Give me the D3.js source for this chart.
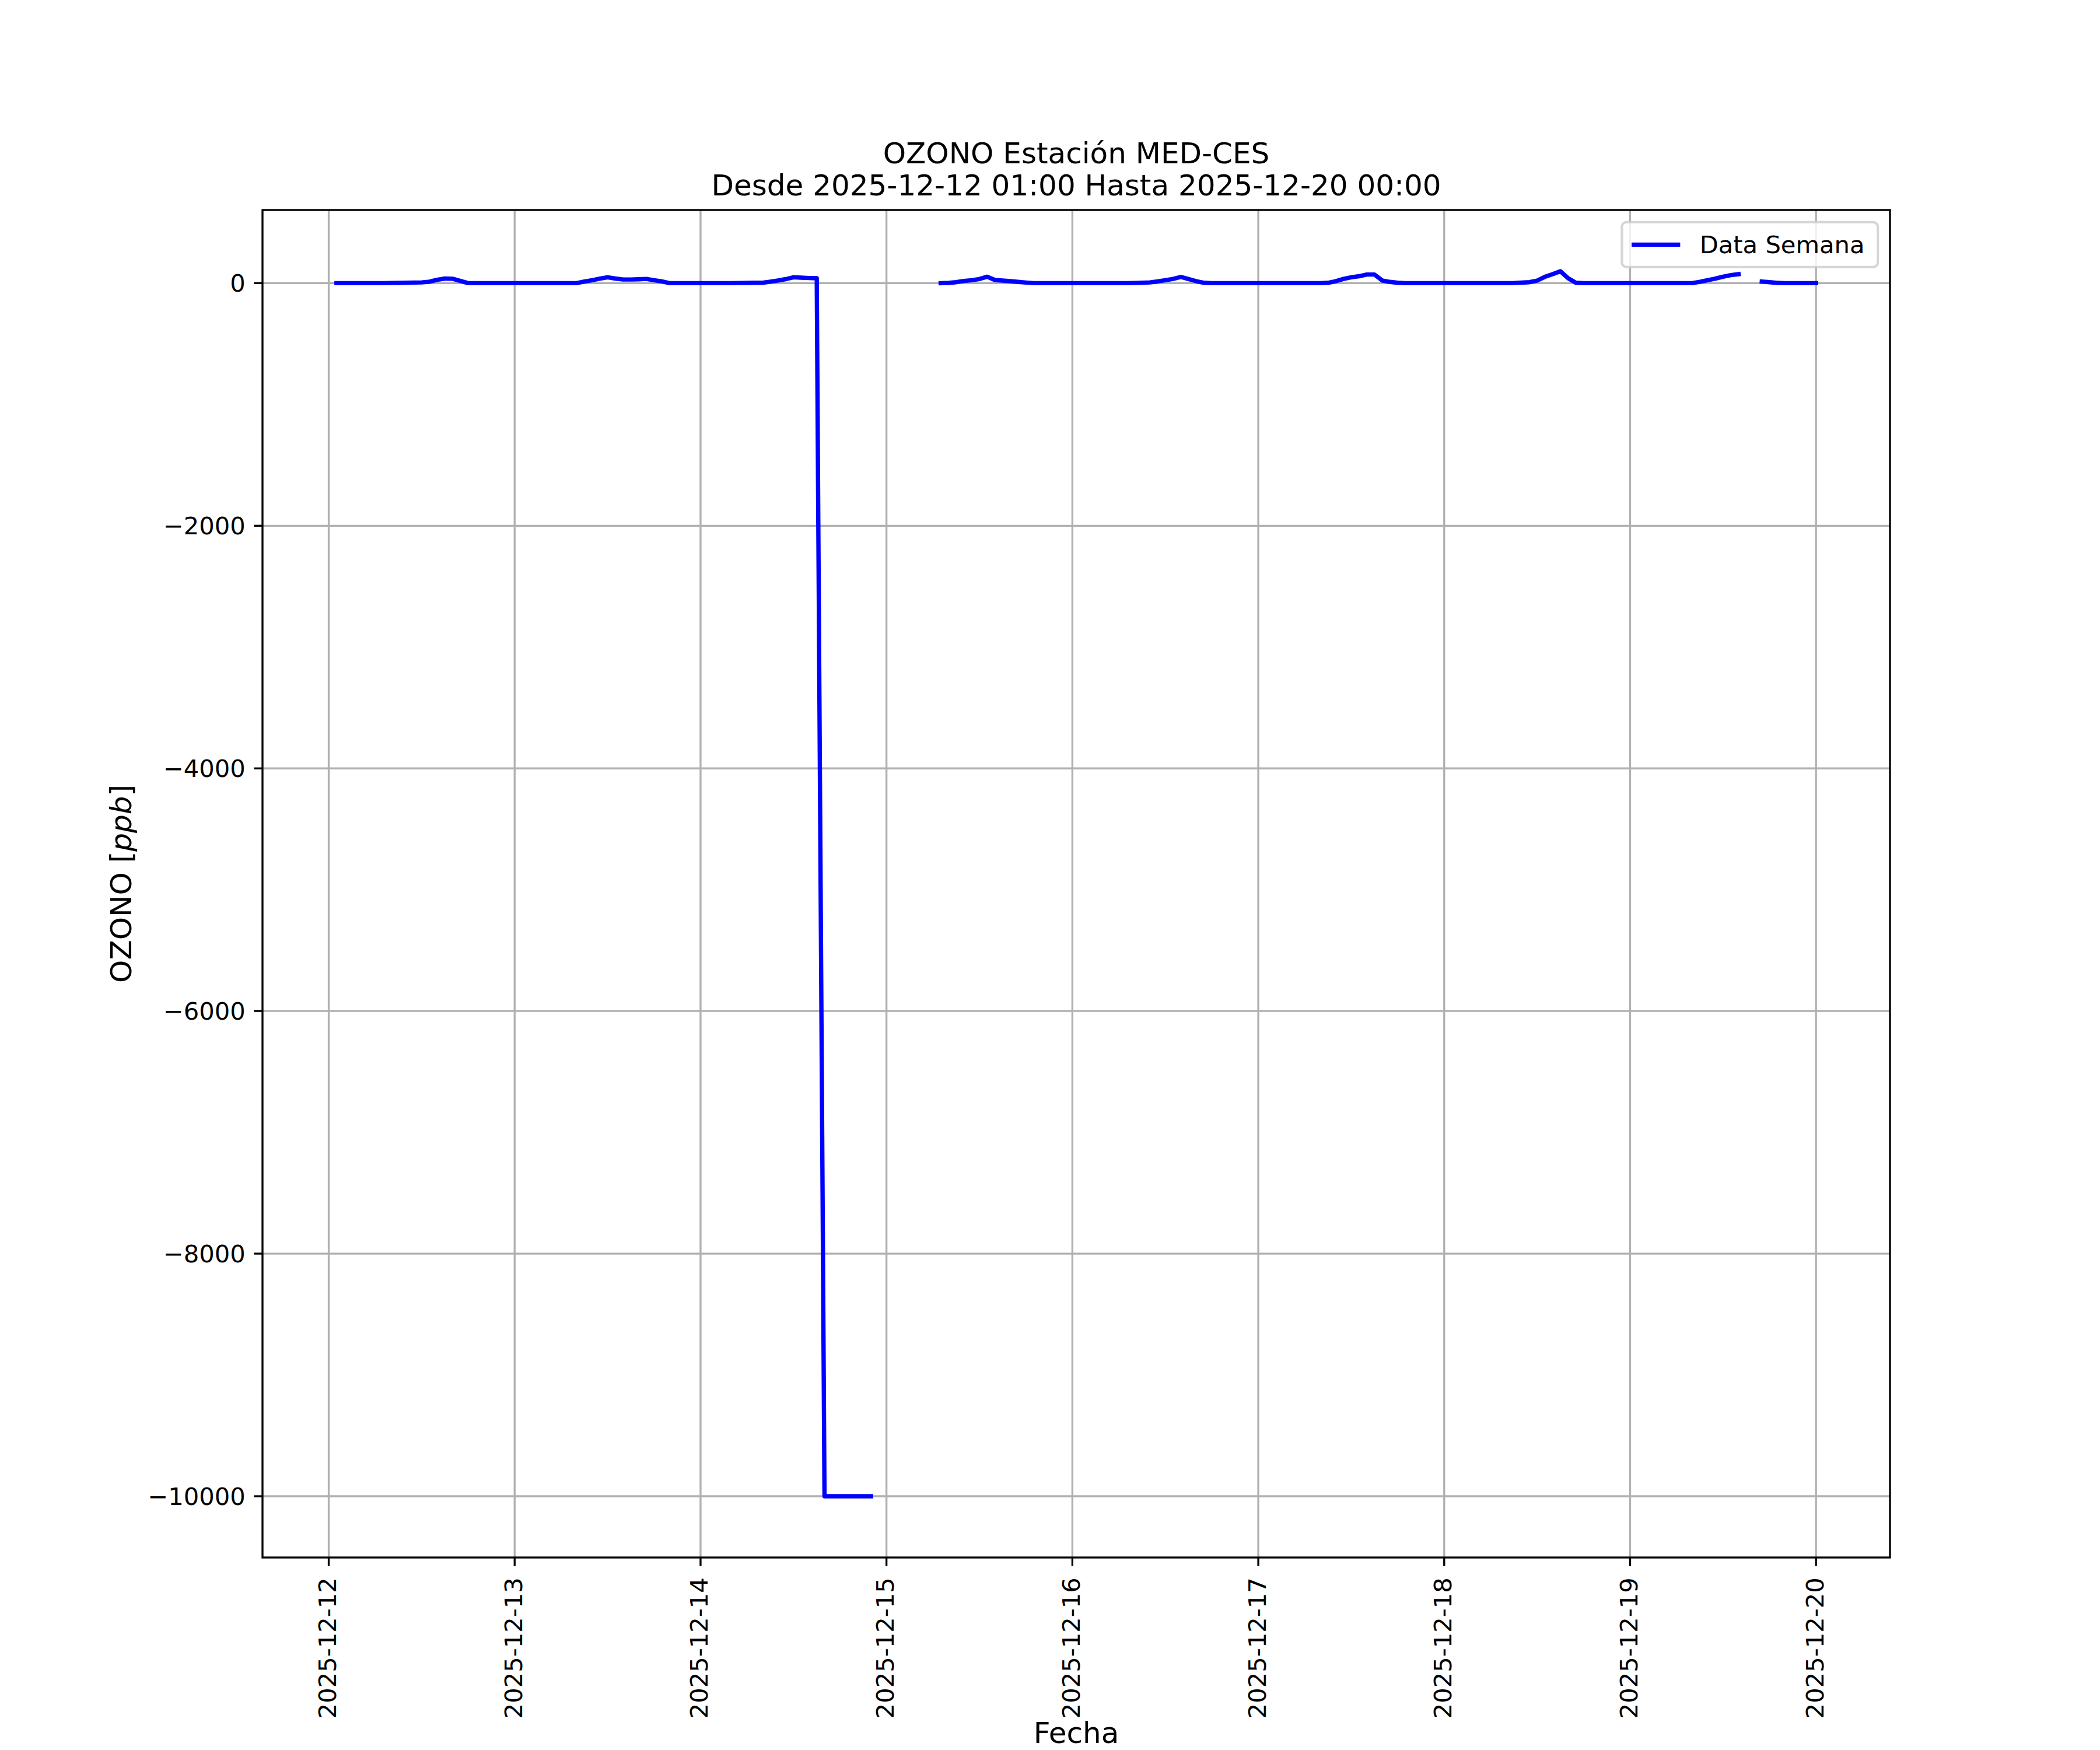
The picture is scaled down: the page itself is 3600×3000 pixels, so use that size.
<!DOCTYPE html>
<html>
<head>
<meta charset="utf-8">
<script src="https://cdn.jsdelivr.net/npm/d3@7"></script>
<style>
  body { margin: 0; background: #fff; }
  text { font-family: "DejaVu Sans", sans-serif; fill: #000; }
</style>
</head>
<body>
<script>
var width = 3600;
var height = 3000;
var margin = {top: 360, right: 360, bottom: 330, left: 450};

var titulo = "OZONO Estación MED-CES";
var subtitulo = "Desde 2025-12-12 01:00 Hasta 2025-12-20 00:00";
var serieNombre = "Data Semana";
var xLabel = "Fecha";

// primera medicion, despues una por hora
var inicio = new Date(2025, 11, 12, 1, 0);

// valores horarios en ppb (null = sin dato)
var dia12 = [0,0,0,0,0,0,0,1,2,3,5,6,12,28,38,36,18,0,0,0,0,0,0];
var dia13 = [0,0,0,0,0,0,0,0,0,13,24,37,48,38,30,30,32,35,24,14,0,0,0,0];
var dia14 = [0,0,0,0,0,1,2,3,3,12,22,33,48,45,42,40,-10000,-10000,-10000,-10000,-10000,-10000,-10000,null];
var dia15 = [null,null,null,null,null,null,null,0,2,8,18,24,34,53,26,21,16,10,5,0,0,0,0,0];
var dia16 = [0,0,0,0,0,0,0,0,1,3,6,14,24,35,51,34,16,3,0,0,0,0,0,0];
var dia17 = [0,0,0,0,0,0,0,0,0,3,16,35,48,57,71,71,22,10,3,0,0,0,0,0];
var dia18 = [0,0,0,0,0,0,0,0,0,1,4,8,21,52,74,98,40,3,0,0,0,0,0,0];
var dia19 = [0,0,0,0,0,0,0,0,0,11,24,37,53,66,74,null,null,13,8,2,0,0,0,0];
var dia20 = [0];

var valores = [].concat(dia12, dia13, dia14, dia15, dia16, dia17, dia18, dia19, dia20);
var data = valores.map(function(v, i) {
  return {fecha: d3.timeHour.offset(inicio, i), v: v};
});

// pt -> px a 300 dpi
var pt = 300 / 72;
var fsTick = 10 * pt;
var fsLabel = 12 * pt;
var lw = 0.8 * pt;
var lwSerie = 7.4;

var svg = d3.select("body")
  .append("svg")
  .attr("width", width)
  .attr("height", height);

svg.append("rect")
  .attr("width", width)
  .attr("height", height)
  .attr("fill", "#fff");

var x0 = margin.left, x1 = width - margin.right;
var y0 = margin.top, y1 = height - margin.bottom;

// margenes del 5% como matplotlib
function pad(ext) {
  var r = ext[1] - ext[0];
  return [ext[0] - 0.05 * r, ext[1] + 0.05 * r];
}

var tExt = pad(d3.extent(data, d => d.fecha.getTime()));
var vExt = pad(d3.extent(data.filter(d => d.v != null), d => d.v));

var x = d3.scaleTime()
  .domain([new Date(tExt[0]), new Date(tExt[1])])
  .range([x0, x1]);

var y = d3.scaleLinear()
  .domain(vExt)
  .range([y1, y0]);

var xTicks = x.ticks(d3.timeDay.every(1));
var yTicks = y.ticks(6);

// grilla
var grid = svg.append("g").attr("class", "grid");
grid.selectAll(".gx")
  .data(xTicks)
  .enter()
  .append("line")
  .attr("x1", d => x(d)).attr("x2", d => x(d))
  .attr("y1", y0).attr("y2", y1)
  .attr("stroke", "#b0b0b0")
  .attr("stroke-width", lw);
grid.selectAll(".gy")
  .data(yTicks)
  .enter()
  .append("line")
  .attr("x1", x0).attr("x2", x1)
  .attr("y1", d => y(d)).attr("y2", d => y(d))
  .attr("stroke", "#b0b0b0")
  .attr("stroke-width", lw);

// serie
var line = d3.line()
  .defined(d => d.v != null)
  .x(d => x(d.fecha))
  .y(d => y(d.v));

svg.append("path")
  .datum(data)
  .attr("d", line)
  .attr("fill", "none")
  .attr("stroke", "#0000ff")
  .attr("stroke-width", lwSerie)
  .attr("stroke-linejoin", "round")
  .attr("stroke-linecap", "square");

// marco
svg.append("rect")
  .attr("x", x0)
  .attr("y", y0)
  .attr("width", x1 - x0)
  .attr("height", y1 - y0)
  .attr("fill", "none")
  .attr("stroke", "#000")
  .attr("stroke-width", lw);

// ejes
var tickLen = 3.5 * pt;

var gx = svg.append("g")
  .attr("transform", "translate(0," + y1 + ")")
  .call(d3.axisBottom(x)
    .tickValues(xTicks)
    .tickFormat(d3.timeFormat("%Y-%m-%d"))
    .tickSize(tickLen)
    .tickSizeOuter(0));
gx.select(".domain").remove();
gx.attr("font-size", fsTick).attr("font-family", "DejaVu Sans");
gx.selectAll(".tick").attr("transform", d => "translate(" + x(d) + ",0)");
gx.selectAll(".tick line").attr("stroke", "#000").attr("stroke-width", lw);
gx.selectAll(".tick text")
  .attr("x", 0)
  .attr("y", 12.5)
  .attr("dy", null)
  .attr("text-anchor", "end")
  .attr("transform", "translate(0," + (tickLen * 2 + 5) + ") rotate(-90)");

var gy = svg.append("g")
  .attr("transform", "translate(" + x0 + ",0)")
  .call(d3.axisLeft(y)
    .tickValues(yTicks)
    .tickFormat(d3.format("d"))
    .tickSize(tickLen)
    .tickPadding(tickLen)
    .tickSizeOuter(0));
gy.select(".domain").remove();
gy.attr("font-size", fsTick).attr("font-family", "DejaVu Sans");
gy.selectAll(".tick").attr("transform", d => "translate(0," + y(d) + ")");
gy.selectAll(".tick line").attr("stroke", "#000").attr("stroke-width", lw);
gy.selectAll(".tick text").attr("dy", "0.36em");

// titulo
var t = svg.append("text")
  .attr("text-anchor", "middle")
  .attr("font-size", fsLabel);
t.append("tspan").attr("x", (x0 + x1) / 2).attr("y", y0 - 80).text(titulo);
t.append("tspan").attr("x", (x0 + x1) / 2).attr("y", y0 - 25).text(subtitulo);

// etiquetas de ejes
svg.append("text")
  .attr("x", (x0 + x1) / 2)
  .attr("y", height - 12)
  .attr("text-anchor", "middle")
  .attr("font-size", fsLabel)
  .text(xLabel);

var yl = svg.append("text")
  .attr("transform", "translate(225," + (y0 + y1) / 2 + ") rotate(-90)")
  .attr("text-anchor", "middle")
  .attr("font-size", fsLabel);
yl.append("tspan").text("OZONO [");
yl.append("tspan").attr("font-style", "italic").text("ppb");
yl.append("tspan").text("]");

// leyenda
var legPad = 0.4 * fsTick;
var legAxPad = 0.5 * fsTick;
var handle = 2.0 * fsTick;
var handleGap = 0.8 * fsTick;
var legH = 77;

var leg = svg.append("g");
var legBox = leg.append("rect");
var legLine = leg.append("line");
var legText = leg.append("text")
  .attr("font-size", fsTick)
  .text(serieNombre);

var tw = legText.node().getComputedTextLength();
var legW = legPad * 2 + handle + handleGap + tw + 6;
var lx = x1 - legAxPad - legW;
var ly = y0 + legAxPad;

legBox.attr("x", lx).attr("y", ly)
  .attr("width", legW).attr("height", legH)
  .attr("rx", 8)
  .attr("fill", "#fff").attr("fill-opacity", 0.8)
  .attr("stroke", "#cccccc").attr("stroke-opacity", 0.8)
  .attr("stroke-width", 1.0 * pt);
legLine.attr("x1", lx + legPad + 3.7).attr("x2", lx + legPad + handle - 3.7)
  .attr("y1", ly + legH / 2).attr("y2", ly + legH / 2)
  .attr("stroke", "#0000ff")
  .attr("stroke-width", lwSerie)
  .attr("stroke-linecap", "square");
legText.attr("x", lx + legPad + handle + handleGap)
  .attr("y", ly + legH / 2 + 15);
</script>
</body>
</html>
